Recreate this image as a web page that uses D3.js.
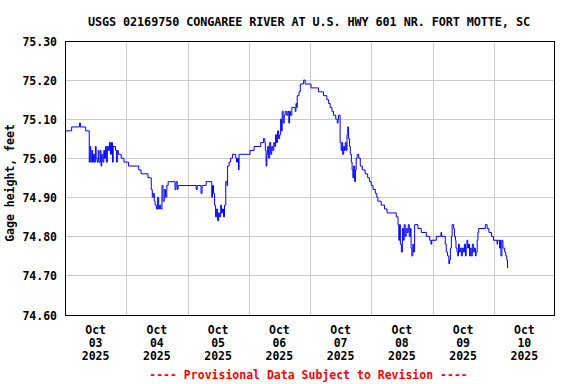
<!DOCTYPE html>
<html>
<head>
<meta charset="utf-8">
<script src="https://cdn.jsdelivr.net/npm/d3@7"></script>
<style>
  html, body { margin: 0; padding: 0; background: #fff; }
  svg { display: block; }
  text { font-family: "DejaVu Sans Mono", monospace; font-weight: bold; }
</style>
</head>
<body>
<svg id="chart" width="576" height="384"></svg>
<script>
// ---- data (hours after 2025-10-03 00:00, gage height in feet) ----
const title = "USGS 02169750 CONGAREE RIVER AT U.S. HWY 601 NR. FORT MOTTE, SC";
const yLabel = "Gage height, feet";
const footer = "---- Provisional Data Subject to Revision ----";
const yTicks = [74.60, 74.70, 74.80, 74.90, 75.00, 75.10, 75.20, 75.30];
const dayLabels = ["03", "04", "05", "06", "07", "08", "09", "10"];
const hours = [
  0.0, 2.6, 5.7, 6.1, 8.1, 9.5, 9.8, 10.1, 10.5, 10.8, 11.2, 11.5, 11.9, 12.2, 12.6, 13.0, 13.3, 13.8, 14.1, 14.4,
  14.8, 15.2, 15.5, 15.9, 16.2, 16.6, 17.0, 17.4, 17.8, 18.2, 18.6, 18.9, 19.8, 20.2, 20.5, 20.9, 22.0, 23.1, 24.9, 28.9,
  29.8, 32.5, 33.8, 34.2, 34.6, 35.0, 35.3, 35.8, 36.3, 36.7, 37.1, 37.5, 38.0, 38.4, 38.9, 39.4, 39.9, 40.4, 43.1, 43.5,
  44.0, 44.3, 51.4, 51.8, 53.3, 53.7, 55.3, 57.5, 57.8, 58.2, 58.6, 59.0, 59.4, 59.8, 60.2, 60.6, 61.0, 61.3, 61.7, 62.1,
  62.5, 63.0, 63.5, 63.7, 64.3, 64.9, 65.6, 66.9, 67.2, 67.6, 68.0, 68.2, 72.5, 74.1, 76.7, 77.8, 78.3, 78.5, 78.8, 79.1,
  79.4, 79.8, 80.2, 80.6, 81.0, 81.4, 81.8, 82.2, 82.5, 82.9, 83.3, 83.7, 84.1, 84.5, 84.8, 85.1, 85.5, 85.9, 86.3, 86.9,
  87.3, 87.7, 88.0, 88.4, 88.9, 90.2, 90.5, 90.8, 91.0, 91.7, 92.2, 93.5, 94.1, 96.4, 99.3, 101.3, 102.6, 103.3, 103.9, 104.6,
  105.2, 106.1, 106.7, 107.0, 107.2, 107.8, 108.2, 108.5, 108.8, 109.2, 109.5, 109.8, 110.2, 110.5, 110.8, 111.1, 111.5, 111.8, 112.2, 112.5,
  112.8, 113.1, 113.5, 113.8, 114.1, 114.5, 115.1, 115.7, 116.5, 117.6, 118.6, 119.3, 120.0, 120.7, 121.6, 122.2, 122.6, 123.9, 125.2, 126.2,
  129.8, 130.5, 130.8, 131.1, 131.4, 131.8, 132.2, 132.6, 132.9, 133.3, 133.7, 134.1, 134.5, 134.9, 135.3, 135.6, 135.9, 136.3, 136.6, 137.0,
  138.3, 139.6, 141.6, 142.9, 143.4, 143.7, 145.5, 147.3, 147.6, 149.0, 149.4, 149.9, 150.4, 150.7, 151.0, 151.4, 151.7, 152.3, 152.6, 153.0,
  153.2, 153.6, 153.9, 154.2, 154.5, 154.9, 155.3, 155.7, 156.1, 156.5, 156.9, 157.2, 157.5, 157.8, 158.1, 158.5, 158.8, 159.2, 159.6, 160.0,
  160.4, 160.8, 161.1, 161.5, 161.8, 162.1, 164.7, 165.4, 166.1, 167.1, 167.9, 169.3, 169.5, 170.3, 170.6, 170.8, 171.2, 171.6, 172.3, 172.7,
  173.1, 173.4, 173.7
];
const gageHeight = [
  75.07, 75.08, 75.09, 75.08, 75.07, 74.99, 75.03, 74.99, 75.02, 74.99, 75.01, 74.99, 75.03, 75.00, 74.99, 75.02, 74.99, 75.02, 74.98, 75.01,
  74.99, 75.02, 75.00, 75.03, 74.99, 75.03, 75.02, 75.04, 75.01, 75.04, 74.99, 75.03, 75.02, 74.99, 75.02, 75.01, 75.00, 74.99, 74.98, 74.97,
  74.96, 74.95, 74.92, 74.90, 74.91, 74.89, 74.88, 74.87, 74.90, 74.87, 74.88, 74.87, 74.93, 74.89, 74.92, 74.90, 74.93, 74.94, 74.92, 74.94,
  74.92, 74.93, 74.92, 74.93, 74.91, 74.93, 74.94, 74.90, 74.93, 74.91, 74.88, 74.85, 74.87, 74.84, 74.86, 74.85, 74.88, 74.86, 74.87, 74.85,
  74.88, 74.94, 74.93, 74.98, 74.99, 75.00, 75.01, 75.00, 74.99, 75.00, 74.97, 75.01, 75.02, 75.03, 75.04, 75.05, 75.04, 75.02, 74.98, 75.01,
  75.03, 75.00, 75.04, 75.01, 75.03, 75.02, 75.04, 75.03, 75.06, 75.04, 75.07, 75.05, 75.06, 75.10, 75.07, 75.12, 75.09, 75.11, 75.12, 75.11,
  75.12, 75.09, 75.12, 75.11, 75.13, 75.12, 75.14, 75.13, 75.16, 75.17, 75.19, 75.20, 75.19, 75.18, 75.17, 75.16, 75.15, 75.14, 75.13, 75.12,
  75.11, 75.10, 75.09, 75.10, 75.11, 75.04, 75.02, 75.04, 75.01, 75.03, 75.02, 75.04, 75.02, 75.06, 75.08, 75.05, 75.03, 75.01, 74.99, 74.97,
  74.95, 74.98, 74.94, 74.97, 75.00, 75.01, 75.00, 74.98, 74.97, 74.96, 74.95, 74.94, 74.93, 74.92, 74.91, 74.90, 74.89, 74.88, 74.87, 74.86,
  74.85, 74.83, 74.79, 74.83, 74.78, 74.76, 74.82, 74.79, 74.83, 74.80, 74.82, 74.81, 74.83, 74.80, 74.82, 74.77, 74.75, 74.78, 74.76, 74.83,
  74.82, 74.81, 74.80, 74.79, 74.78, 74.79, 74.80, 74.81, 74.80, 74.78, 74.76, 74.75, 74.73, 74.74, 74.77, 74.80, 74.83, 74.82, 74.80, 74.79,
  74.77, 74.76, 74.75, 74.78, 74.76, 74.77, 74.75, 74.77, 74.76, 74.78, 74.75, 74.77, 74.79, 74.77, 74.78, 74.75, 74.77, 74.75, 74.78, 74.76,
  74.77, 74.75, 74.76, 74.79, 74.81, 74.82, 74.83, 74.82, 74.81, 74.80, 74.79, 74.78, 74.79, 74.77, 74.79, 74.75, 74.79, 74.77, 74.76, 74.75,
  74.74, 74.72, 74.72
];

// ---- layout ----
const svg = d3.select("#chart");
const plot = { left: 65, right: 555, top: 41, bottom: 316 };
const t0 = Date.UTC(2025, 9, 3);
const toDate = h => new Date(t0 + h * 3600e3);

const x = d3.scaleUtc()
  .domain([new Date(t0), new Date(Date.UTC(2025, 9, 11))])
  .range([plot.left, plot.right]);
const y = d3.scaleLinear()
  .domain([74.60, 75.30])
  .range([314.5, 41]);

const data = hours.map((h, i) => ({ t: toDate(h), v: gageHeight[i] }));

// grid
const gridColor = "#cbcbcb";
const dayLines = d3.utcDay.range(new Date(Date.UTC(2025, 9, 4)), new Date(Date.UTC(2025, 9, 11)));
svg.append("g").selectAll("line").data(dayLines).join("line")
  .attr("x1", d => Math.round(x(d)) + 0.5).attr("x2", d => Math.round(x(d)) + 0.5)
  .attr("y1", plot.top).attr("y2", plot.bottom)
  .attr("stroke", gridColor).attr("stroke-width", 1);
svg.append("g").selectAll("line").data(yTicks).join("line")
  .attr("x1", plot.left).attr("x2", plot.right)
  .attr("y1", d => Math.round(y(d)) + 0.5).attr("y2", d => Math.round(y(d)) + 0.5)
  .attr("stroke", gridColor).attr("stroke-width", 1);

// clip + data line
svg.append("clipPath").attr("id", "clip").append("rect")
  .attr("x", plot.left).attr("y", plot.top)
  .attr("width", plot.right - plot.left).attr("height", plot.bottom - plot.top);

const line = d3.line()
  .x(d => x(d.t))
  .y(d => y(d.v))
  .curve(d3.curveStepAfter);

svg.append("path")
  .datum(data)
  .attr("clip-path", "url(#clip)")
  .attr("fill", "none")
  .attr("stroke", "#0000ff")
  .attr("stroke-width", 1)
  .attr("d", line);

// frame
svg.append("rect")
  .attr("x", plot.left + 0.5).attr("y", plot.top + 0.5)
  .attr("width", plot.right - plot.left - 1).attr("height", plot.bottom - plot.top - 1)
  .attr("fill", "none").attr("stroke", "#000").attr("stroke-width", 1);

// y tick labels
svg.append("g").selectAll("text").data(yTicks).join("text")
  .attr("x", 57).attr("y", d => y(d) + 5)
  .attr("text-anchor", "end")
  .attr("font-size", 11.5)
  .attr("fill", "#000")
  .text(d3.format(".2f"));

// x tick labels (noon of each day)
const noonDates = dayLabels.map((d, i) => new Date(t0 + (i * 24 + 12) * 3600e3));
const xl = svg.append("g").selectAll("text").data(noonDates).join("text")
  .attr("text-anchor", "middle")
  .attr("font-size", 11.5)
  .attr("fill", "#000");
xl.append("tspan").attr("x", d => x(d)).attr("y", 334).text("Oct");
xl.append("tspan").attr("x", d => x(d)).attr("y", 347).text((d, i) => dayLabels[i]);
xl.append("tspan").attr("x", d => x(d)).attr("y", 360).text("2025");

// title
svg.append("text")
  .attr("x", 309).attr("y", 26)
  .attr("text-anchor", "middle")
  .attr("font-size", 11.8)
  .attr("textLength", 442)
  .attr("lengthAdjust", "spacing")
  .attr("fill", "#000")
  .text(title);

// y axis label
svg.append("text")
  .attr("transform", "translate(14,183) rotate(-90)")
  .attr("text-anchor", "middle")
  .attr("font-size", 11.5)
  .attr("fill", "#000")
  .text(yLabel);

// footer
svg.append("text")
  .attr("x", 308.5).attr("y", 379)
  .attr("text-anchor", "middle")
  .attr("font-size", 11.5)
  .attr("fill", "#ff0000")
  .text(footer);
</script>
</body>
</html>
